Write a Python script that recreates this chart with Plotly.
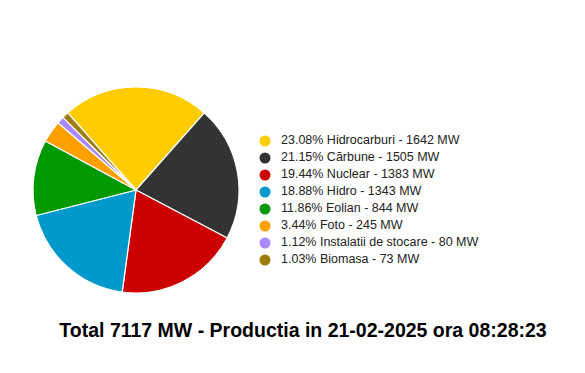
import plotly.graph_objects as go

labels = ["Hidrocarburi", "Cărbune", "Nuclear", "Hidro", "Eolian", "Foto",
          "Instalatii de stocare", "Biomasa"]
values_mw = [1642, 1505, 1383, 1343, 844, 245, 80, 73]
percents = [23.08, 21.15, 19.44, 18.88, 11.86, 3.44, 1.12, 1.03]
colors = ["#FFCC00", "#333333", "#CC0000", "#0099CC", "#009900", "#FFA000",
          "#AA88FF", "#9E7C0A"]
total_mw = 7117
title_text = f"Total {total_mw} MW - Productia in 21-02-2025 ora 08:28:23"

W, H = 585, 373
fig = go.Figure()

fig.add_trace(go.Pie(
    labels=labels, values=values_mw, sort=False, direction="clockwise",
    rotation=-41.5, marker=dict(colors=colors, line=dict(color="white", width=1.2)),
    textinfo="none", hoverinfo="label+value+percent", showlegend=False,
    domain=dict(x=[(136 - 103) / W, (136 + 103) / W], y=[1 - 293 / H, 1 - 87 / H]),
))

# custom legend: one row per category, laid out by a hidden category axis
legend_text = [f"{p:.2f}% {lab} - {v} MW" for lab, v, p in zip(labels, values_mw, percents)]
fig.add_trace(go.Scatter(
    x=[0] * len(labels), y=labels, mode="markers",
    marker=dict(symbol="circle", size=11, color=colors),
    hoverinfo="skip", showlegend=False, cliponaxis=False,
))
fig.add_trace(go.Scatter(
    x=[16] * len(labels), y=labels, mode="text",
    text=legend_text, textposition="middle right",
    textfont=dict(size=12.5, color="#222222"),
    hoverinfo="skip", showlegend=False, cliponaxis=False,
))

row_top, row_h = 132.5, 17
n = len(labels)
fig.update_layout(
    width=W, height=H, margin=dict(l=0, r=0, t=0, b=0),
    paper_bgcolor="white", plot_bgcolor="white",
    font=dict(family="Arial, 'Liberation Sans', sans-serif", color="#222222"),
    xaxis=dict(visible=False, domain=[265 / W, 565 / W], range=[0, 300], fixedrange=True),
    yaxis=dict(visible=False, type="category", categoryorder="array", categoryarray=labels,
               autorange=False, range=[n - 0.5, -0.5],
               domain=[1 - (row_top + n * row_h) / H, 1 - row_top / H], fixedrange=True),
    showlegend=False,
    title=dict(text=f"<b>{title_text}</b>", x=303 / W, xanchor="center",
               xref="container", yref="container", y=1 - 330 / H, yanchor="middle",
               font=dict(size=19.5, color="#000000")),
)

fig.write_html("out.html")
